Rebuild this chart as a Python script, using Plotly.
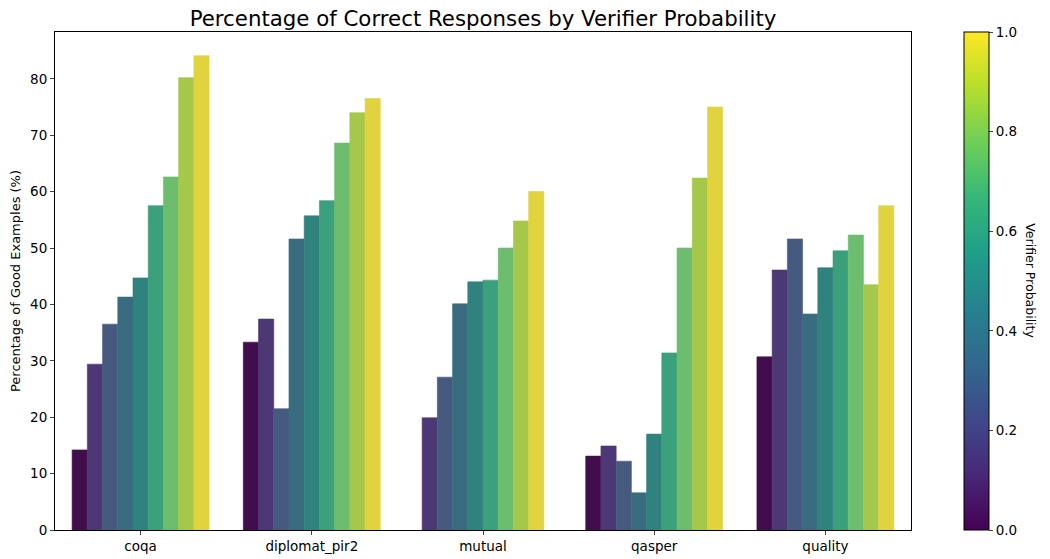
"""Grouped bar chart of correct responses per verifier-probability bin."""

import plotly.graph_objects as go

datasets = ["coqa", "diplomat_pir2", "mutual", "qasper", "quality"]

# percentage of good examples per probability bin (None = empty bin)
coqa = [14.2, 29.4, 36.5, 41.3, 44.7, 57.5, 62.6, 80.2, 84.1]
diplomat_pir2 = [33.3, 37.4, 21.5, 51.6, 55.7, 58.4, 68.6, 74.0, 76.5]
mutual = [None, 19.9, 27.1, 40.1, 44.0, 44.3, 50.0, 54.8, 60.0]
qasper = [13.1, 14.9, 12.2, 6.6, 17.0, 31.4, 50.0, 62.4, 75.0]
quality = [30.7, 46.1, 51.6, 38.3, 46.5, 49.5, 52.3, 43.5, 57.5]

colorbar_ticks = [0.0, 0.2, 0.4, 0.6, 0.8, 1.0]

bin_colors = [
    "#420d4c", "#4c3874", "#465a80", "#3a6c80", "#2f827d",
    "#3ba07c", "#6cbd6e", "#a5c84a", "#e0d33e",
]

FONT = "DejaVu Sans"
n_bins = len(bin_colors)
bar_width = 0.8 / n_bins

xs, ys, colors = [], [], []
for group, values in enumerate([coqa, diplomat_pir2, mutual, qasper, quality]):
    present = [(i, v) for i, v in enumerate(values) if v is not None]
    for j, (i, v) in enumerate(present):
        xs.append(group + (j - (len(present) - 1) / 2) * bar_width)
        ys.append(v)
        colors.append(bin_colors[i])

fig = go.Figure()
fig.add_trace(
    go.Bar(
        x=xs,
        y=ys,
        width=bar_width,
        marker=dict(color=colors, line=dict(width=0.6, color=colors)),
        showlegend=False,
    )
)

# dummy trace carrying the colorbar
fig.add_trace(
    go.Scatter(
        x=[None],
        y=[None],
        mode="markers",
        showlegend=False,
        marker=dict(
            color=[0],
            cmin=0,
            cmax=1,
            colorscale="Viridis",
            showscale=True,
            colorbar=dict(
                x=1.062,
                xanchor="left",
                y=0.5,
                yanchor="middle",
                len=1,
                lenmode="fraction",
                thickness=25,
                xpad=0,
                ypad=0,
                outlinewidth=1,
                outlinecolor="black",
                tickvals=colorbar_ticks,
                ticktext=[f"{t:.1f}" for t in colorbar_ticks],
                ticks="outside",
                ticklen=4,
                tickfont=dict(family=FONT, size=13.5, color="black"),
            ),
        ),
    )
)

fig.add_annotation(
    text="Verifier Probability",
    xref="paper",
    yref="paper",
    x=1.151,
    y=0.5,
    textangle=90,
    showarrow=False,
    font=dict(family=FONT, size=12.5, color="black"),
)

# the page body adds an 8px offset, so the figure is 8px smaller
fig.update_layout(
    width=1042,
    height=551,
    margin=dict(l=47, r=139, t=24, b=29, autoexpand=False),
    plot_bgcolor="white",
    paper_bgcolor="white",
    font=dict(family=FONT, color="black"),
    title=dict(
        text="Percentage of Correct Responses by Verifier Probability",
        x=0.5,
        xref="paper",
        y=1,
        yref="container",
        yanchor="top",
        pad=dict(t=3),
        font=dict(family=FONT, size=21.3, color="black"),
    ),
    xaxis=dict(
        range=[-0.5, 4.5],
        tickvals=list(range(len(datasets))),
        ticktext=datasets,
        ticks="outside",
        ticklen=4,
        showline=True,
        mirror=True,
        linecolor="black",
        linewidth=1,
        showgrid=False,
        zeroline=False,
        automargin=False,
        tickfont=dict(family=FONT, size=13.5, color="black"),
    ),
    yaxis=dict(
        range=[0, 88.3],
        tickvals=list(range(0, 90, 10)),
        ticks="outside",
        ticklen=4,
        showline=True,
        mirror=True,
        linecolor="black",
        linewidth=1,
        showgrid=False,
        zeroline=False,
        automargin=False,
        tickfont=dict(family=FONT, size=13.5, color="black"),
        title=dict(
            text="Percentage of Good Examples (%)",
            standoff=8,
            font=dict(family=FONT, size=13, color="black"),
        ),
    ),
)

fig.write_html("out.html")
